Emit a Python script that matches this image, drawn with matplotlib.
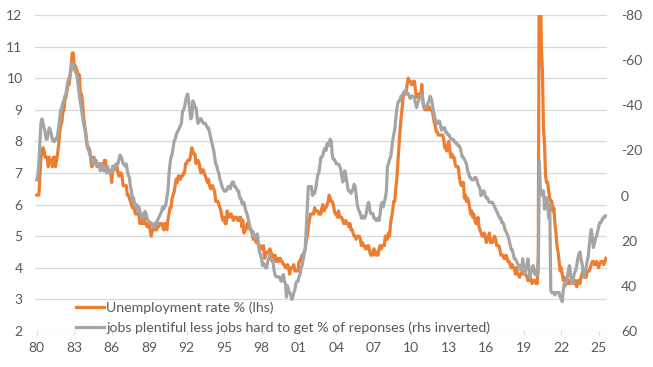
import numpy as np
import matplotlib
matplotlib.use("Agg")
import matplotlib.pyplot as plt

plt.rcParams['font.family'] = ['Lato', 'DejaVu Sans']
plt.rcParams['axes.unicode_minus'] = False

# monthly, Jan 1980 - Aug 2025
unemp = [
    6.3, 6.3, 6.3, 6.9, 7.5, 7.6, 7.8, 7.7, 7.5, 7.5, 7.5, 7.2,
    7.5, 7.4, 7.4, 7.2, 7.5, 7.5, 7.2, 7.4, 7.6, 7.9, 8.3, 8.5,
    8.6, 8.9, 9.0, 9.3, 9.4, 9.6, 9.8, 9.8, 10.1, 10.4, 10.8, 10.8,
    10.4, 10.4, 10.3, 10.2, 10.1, 10.1, 9.4, 9.5, 9.2, 8.8, 8.5, 8.3,
    8.0, 7.8, 7.8, 7.7, 7.4, 7.2, 7.5, 7.5, 7.3, 7.4, 7.2, 7.3,
    7.3, 7.2, 7.2, 7.3, 7.2, 7.4, 7.4, 7.1, 7.1, 7.1, 7.0, 7.0,
    6.7, 7.2, 7.2, 7.1, 7.2, 7.2, 7.0, 6.9, 7.0, 7.0, 6.9, 6.6,
    6.6, 6.6, 6.6, 6.3, 6.3, 6.2, 6.1, 6.0, 5.9, 6.0, 5.8, 5.7,
    5.7, 5.7, 5.7, 5.4, 5.6, 5.4, 5.4, 5.6, 5.4, 5.4, 5.3, 5.3,
    5.4, 5.2, 5.0, 5.2, 5.2, 5.3, 5.2, 5.2, 5.3, 5.3, 5.4, 5.4,
    5.4, 5.3, 5.2, 5.4, 5.4, 5.2, 5.5, 5.7, 5.9, 5.9, 6.2, 6.3,
    6.4, 6.6, 6.8, 6.7, 6.9, 6.9, 6.8, 6.9, 6.9, 7.0, 7.0, 7.3,
    7.3, 7.4, 7.4, 7.4, 7.6, 7.8, 7.7, 7.6, 7.6, 7.3, 7.4, 7.4,
    7.3, 7.1, 7.0, 7.1, 7.1, 7.0, 6.9, 6.8, 6.7, 6.8, 6.6, 6.5,
    6.6, 6.6, 6.5, 6.4, 6.1, 6.1, 6.1, 6.0, 5.9, 5.8, 5.6, 5.5,
    5.6, 5.4, 5.4, 5.8, 5.6, 5.6, 5.7, 5.7, 5.6, 5.5, 5.6, 5.6,
    5.6, 5.5, 5.5, 5.6, 5.6, 5.3, 5.5, 5.1, 5.2, 5.2, 5.4, 5.4,
    5.3, 5.2, 5.2, 5.1, 4.9, 5.0, 4.9, 4.8, 4.9, 4.7, 4.6, 4.7,
    4.6, 4.6, 4.7, 4.3, 4.4, 4.5, 4.5, 4.5, 4.6, 4.5, 4.4, 4.4,
    4.3, 4.4, 4.2, 4.3, 4.2, 4.3, 4.3, 4.2, 4.2, 4.1, 4.1, 4.0,
    4.0, 4.1, 4.0, 3.8, 4.0, 4.0, 4.0, 4.1, 3.9, 3.9, 3.9, 3.9,
    4.2, 4.2, 4.3, 4.4, 4.3, 4.5, 4.6, 4.9, 5.0, 5.3, 5.5, 5.7,
    5.7, 5.7, 5.7, 5.9, 5.8, 5.8, 5.8, 5.7, 5.7, 5.7, 5.9, 6.0,
    5.8, 5.9, 5.9, 6.0, 6.1, 6.3, 6.2, 6.1, 6.1, 6.0, 5.8, 5.7,
    5.7, 5.6, 5.8, 5.6, 5.6, 5.6, 5.5, 5.4, 5.4, 5.5, 5.4, 5.4,
    5.3, 5.4, 5.2, 5.2, 5.1, 5.0, 5.0, 4.9, 5.0, 5.0, 5.0, 4.9,
    4.7, 4.8, 4.7, 4.7, 4.6, 4.6, 4.7, 4.7, 4.5, 4.4, 4.5, 4.4,
    4.6, 4.5, 4.4, 4.5, 4.4, 4.6, 4.7, 4.6, 4.7, 4.7, 4.7, 5.0,
    5.0, 4.9, 5.1, 5.0, 5.4, 5.6, 5.8, 6.1, 6.1, 6.5, 6.8, 7.3,
    7.8, 8.3, 8.7, 9.0, 9.4, 9.5, 9.5, 9.6, 9.8, 10.0, 9.9, 9.9,
    9.8, 9.8, 9.9, 9.9, 9.6, 9.4, 9.4, 9.5, 9.5, 9.4, 9.8, 9.3,
    9.1, 9.0, 9.0, 9.1, 9.0, 9.1, 9.0, 9.0, 9.0, 8.8, 8.6, 8.5,
    8.3, 8.3, 8.2, 8.2, 8.2, 8.2, 8.2, 8.1, 7.8, 7.8, 7.7, 7.9,
    8.0, 7.7, 7.5, 7.6, 7.5, 7.5, 7.3, 7.2, 7.2, 7.2, 6.9, 6.7,
    6.6, 6.7, 6.7, 6.2, 6.3, 6.1, 6.2, 6.1, 5.9, 5.7, 5.8, 5.6,
    5.7, 5.5, 5.4, 5.4, 5.6, 5.3, 5.2, 5.1, 5.0, 5.0, 5.1, 5.0,
    4.8, 4.9, 5.0, 5.1, 4.8, 4.9, 4.8, 4.9, 5.0, 4.9, 4.7, 4.7,
    4.7, 4.6, 4.4, 4.4, 4.4, 4.3, 4.3, 4.4, 4.3, 4.2, 4.2, 4.1,
    4.0, 4.1, 4.0, 4.0, 3.8, 4.0, 3.8, 3.8, 3.7, 3.8, 3.8, 3.9,
    4.0, 3.8, 3.8, 3.7, 3.6, 3.6, 3.7, 3.6, 3.5, 3.6, 3.6, 3.6,
    3.5, 3.5, 4.4, 14.8, 13.2, 11.0, 10.2, 8.4, 7.9, 6.9, 6.7, 6.7,
    6.4, 6.2, 6.1, 6.1, 5.8, 5.9, 5.4, 5.1, 4.7, 4.5, 4.2, 3.9,
    4.0, 3.8, 3.6, 3.7, 3.6, 3.6, 3.5, 3.6, 3.5, 3.6, 3.6, 3.5,
    3.5, 3.6, 3.5, 3.4, 3.6, 3.6, 3.5, 3.7, 3.8, 3.9, 3.7, 3.7,
    3.7, 3.9, 3.9, 3.9, 4.0, 4.1, 4.2, 4.2, 4.1, 4.1, 4.2, 4.1,
    4.0, 4.1, 4.2, 4.2, 4.2, 4.1, 4.2, 4.3,
]

# jobs plentiful less jobs hard to get, % of responses (rhs, inverted)
jobs_diff = [
    -7, -9, -14, -24, -32, -34, -32, -30, -28, -25, -25, -28,
    -30, -29, -27, -25, -24, -24, -25, -25, -27, -30, -34, -38,
    -39, -41, -42, -44, -45, -48, -51, -52, -53, -56, -59, -58,
    -56, -55, -54, -52, -48, -44, -41, -38, -35, -32, -30, -27,
    -23, -21, -20, -18, -17, -16, -14, -14, -16, -15, -13, -14,
    -14, -11, -14, -13, -11, -13, -12, -10, -13, -11, -10, -11,
    -11, -13, -11, -13, -14, -14, -14, -16, -18, -17, -16, -14,
    -14, -13, -14, -11, -9, -8, -4, -2, 3, 1, 4, 5,
    4, 7, 5, 7, 8, 10, 10, 8, 7, 8, 10, 11,
    12, 12, 12, 13, 14, 14, 12, 13, 11, 10, 9, 8,
    7, 5, 6, 5, 4, 1, -2, -9, -14, -17, -18, -21,
    -24, -25, -27, -28, -29, -30, -31, -32, -37, -38, -39, -42,
    -44, -45, -42, -38, -34, -35, -42, -41, -39, -39, -35, -32,
    -33, -34, -34, -33, -32, -32, -32, -31, -30, -30, -28, -26,
    -24, -22, -20, -17, -14, -13, -11, -10, -7, -6, -4, -3,
    -2, -2, -2, -3, -4, -4, -3, -5, -6, -6, -4, -4,
    -3, -2, -2, 1, 1, 3, 4, 3, 5, 7, 8, 10,
    12, 14, 15, 17, 16, 18, 19, 19, 17, 21, 25, 26,
    28, 31, 30, 31, 32, 32, 29, 28, 26, 28, 29, 29,
    33, 35, 36, 36, 36, 36, 37, 38, 36, 35, 38, 39,
    45, 40, 42, 43, 44, 46, 45, 43, 42, 39, 38, 38,
    36, 35, 32, 31, 28, 25, 24, 14, 5, -4, -4, -4,
    -4, 0, -1, -1, -3, -6, -9, -10, -13, -17, -17, -18,
    -20, -21, -20, -23, -22, -23, -25, -24, -18, -16, -16, -15,
    -14, -14, -14, -13, -12, -9, -6, -7, -11, -9, -6, -3,
    -2, -2, -1, -2, -3, -5, -4, 0, 4, 6, 7, 8,
    10, 9, 10, 10, 9, 7, 4, 3, 6, 8, 8, 8,
    10, 10, 11, 11, 10, 11, 8, 4, 3, 5, 3, 1,
    -2, -13, -14, -16, -17, -20, -24, -27, -29, -34, -38, -41,
    -42, -42, -44, -44, -45, -46, -46, -47, -45, -45, -44, -43,
    -44, -44, -44, -43, -41, -39, -41, -42, -44, -44, -45, -42,
    -39, -39, -39, -40, -41, -42, -44, -43, -41, -38, -36, -34,
    -32, -32, -33, -33, -31, -29, -30, -30, -30, -28, -28, -27,
    -27, -26, -25, -25, -25, -24, -24, -23, -23, -22, -22, -21,
    -19, -17, -17, -16, -15, -14, -11, -10, -8, -8, -7, -7,
    -7, -8, -8, -7, -5, -4, -3, 0, -1, -2, -2, 0,
    1, 1, 2, 3, 3, 3, 3, 4, 5, 6, 7, 8,
    9, 10, 10, 12, 12, 13, 15, 16, 17, 18, 20, 22,
    24, 24, 26, 28, 28, 29, 30, 31, 31, 33, 33, 28,
    32, 35, 33, 31, 28, 32, 36, 34, 33, 31, 33, 35,
    33, 35, 34, -15, -3, -2, 0, -2, 6, 1, 1, 4,
    10, 4, 42, 43, 43, 43, 44, 43, 43, 43, 43, 45,
    45, 47, 42, 39, 40, 38, 36, 33, 31, 35, 38, 39,
    36, 34, 33, 31, 28, 26, 25, 28, 30, 33, 36, 33,
    32, 29, 27, 22, 18, 15, 19, 23, 21, 19, 18, 16,
    14, 12, 12, 11, 10, 10, 9, 9,
]

tick_years = list(range(1980, 2026, 3))
tick_labels = ["80", "83", "86", "89", "92", "95", "98", "01", "04",
               "07", "10", "13", "16", "19", "22", "25"]

orange = "#ED7D31"
grey = "#A5A5A5"
txt = "#595959"

x = 1980 + np.arange(len(unemp)) / 12.0

fig = plt.figure(figsize=(6.53, 3.67), dpi=100)
ax = fig.add_axes([35 / 653, 1 - 331 / 367, 572 / 653, 316 / 367])
ax2 = ax.twinx()

l1, = ax.plot(x, unemp, color=orange, lw=2.3, solid_joinstyle="round",
              label="Unemployment rate % (lhs)")
l2, = ax2.plot(x, jobs_diff, color=grey, lw=2.3, solid_joinstyle="round",
               label="jobs plentiful less jobs hard to get % of reponses (rhs inverted)")

ax.set_xlim(1979.856, 2025.67)
ax.set_ylim(2, 12)
ax.set_yticks(range(2, 13))
ax2.set_ylim(60, -80)
ax2.set_yticks(range(-80, 61, 20))

ax.set_xticks(tick_years)
ax.set_xticklabels(tick_labels)

ax.grid(axis="y", color="#D9D9D9", lw=0.9)
ax.set_axisbelow(True)
for a in (ax, ax2):
    for s in a.spines.values():
        s.set_visible(False)

ax.tick_params(axis="y", length=0, pad=9, labelsize=10, labelcolor=txt)
ax2.tick_params(axis="y", length=0, pad=10, labelsize=10, labelcolor=txt)
ax.tick_params(axis="x", length=3, color="#D9D9D9", pad=5, labelsize=10,
               labelcolor=txt)
for lab in ax2.get_yticklabels():
    lab.set_horizontalalignment("left")

leg = ax2.legend(handles=[l1, l2], loc="lower left",
                 bbox_to_anchor=(76 / 653, 1 - 334 / 367),
                 bbox_transform=fig.transFigure, frameon=False,
                 fontsize=10.2, handlelength=2.0, handletextpad=0.15,
                 labelspacing=0.5, borderpad=0, borderaxespad=0)
for t in leg.get_texts():
    t.set_color(txt)

fig.savefig("out.png", dpi=100)
